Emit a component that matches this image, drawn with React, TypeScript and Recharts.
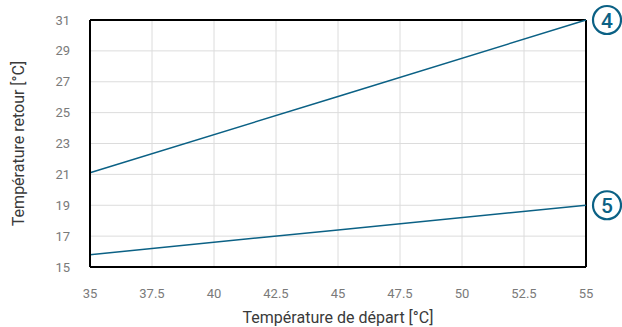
import React from "react";
import {
  LineChart,
  Line,
  XAxis,
  YAxis,
  CartesianGrid,
  ReferenceLine,
  Label,
  LabelList,
} from "recharts";

const departure = [35, 45, 55];
const retour4 = [21.1, 26.05, 31];
const retour5 = [15.8, 17.4, 19.0];
const curveLabels = ["4", "5"];
const xTicks = [35, 37.5, 40, 42.5, 45, 47.5, 50, 52.5, 55];
const yTicks = [15, 17, 19, 21, 23, 25, 27, 29, 31];

const data = departure.map((d, i) => ({ x: d, a: retour4[i], b: retour5[i] }));

const COLOR = "#0b6185";
const FONT = "Roboto, 'DejaVu Sans', sans-serif";

const makeBadge = (text: string) => (props: any) => {
  const { x, y, index } = props;
  if (index !== data.length - 1) return null;
  const cx = Number(x) + 21;
  const cy = Number(y);
  return (
    <g>
      <circle cx={cx} cy={cy} r={14} fill="#fff" stroke={COLOR} strokeWidth={2.2} />
      <text
        x={cx}
        y={cy}
        dy="0.36em"
        textAnchor="middle"
        fontSize={21}
        fontWeight={500}
        fill={COLOR}
        fontFamily={FONT}
      >
        {text}
      </text>
    </g>
  );
};

export default function App() {
  return (
    <div style={{ position: "absolute", left: 0, top: 0, background: "#fff" }}>
      <LineChart
        width={622}
        height={327}
        data={data}
        margin={{ top: 20, right: 36, left: 0, bottom: 0 }}
      >
        <CartesianGrid stroke="#dcdcdc" strokeWidth={1} />
        <XAxis
          dataKey="x"
          type="number"
          domain={[35, 55]}
          ticks={xTicks}
          stroke="#000"
          strokeWidth={2}
          tickLine={false}
          tickMargin={16}
          height={60}
          tick={{ fill: "#7a7a7a", fontSize: 13, fontFamily: FONT }}
        >
          <Label
            value="Température de départ [°C]"
            position="insideBottom"
            offset={4}
            fill="#3a3a3a"
            fontSize={16}
            fontFamily={FONT}
          />
        </XAxis>
        <YAxis
          type="number"
          domain={[15, 31]}
          ticks={yTicks}
          stroke="#000"
          strokeWidth={2}
          tickLine={false}
          tickMargin={14}
          width={90}
          tick={{ fill: "#7a7a7a", fontSize: 13, fontFamily: FONT }}
        >
          <Label
            value="Température retour [°C]"
            angle={-90}
            position="insideLeft"
            offset={18}
            style={{ textAnchor: "middle" }}
            fill="#3a3a3a"
            fontSize={16}
            fontFamily={FONT}
          />
        </YAxis>
        <ReferenceLine y={31} stroke="#000" strokeWidth={2} />
        <ReferenceLine x={55} stroke="#000" strokeWidth={2} />
        <Line
          dataKey="a"
          stroke={COLOR}
          strokeWidth={1.5}
          dot={false}
          isAnimationActive={false}
        >
          <LabelList dataKey="a" content={makeBadge(curveLabels[0])} />
        </Line>
        <Line
          dataKey="b"
          stroke={COLOR}
          strokeWidth={1.5}
          dot={false}
          isAnimationActive={false}
        >
          <LabelList dataKey="b" content={makeBadge(curveLabels[1])} />
        </Line>
      </LineChart>
    </div>
  );
}
